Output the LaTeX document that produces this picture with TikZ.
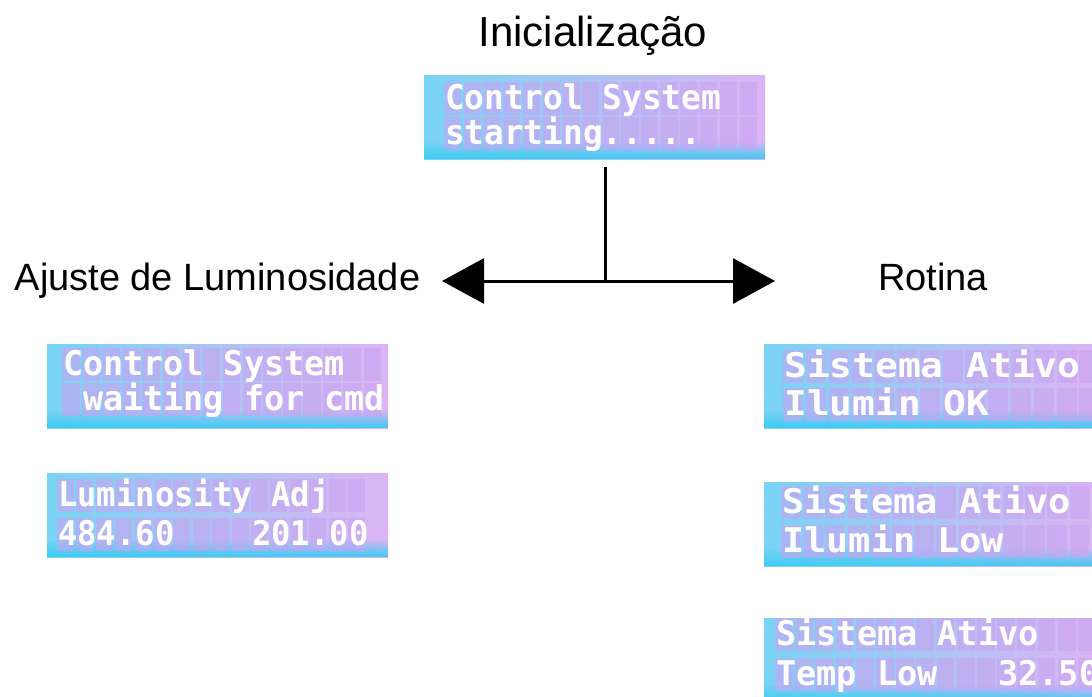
\documentclass[tikz,border=0pt]{standalone}
\usepackage{fontspec}
\setmainfont{Liberation Sans}
\newfontfamily\lcdfont{DejaVu Sans Mono}
\usetikzlibrary{arrows.meta,fadings}
\definecolor{lcdcyan}{HTML}{78D4F4}
\definecolor{lcdblue}{HTML}{A6C4F2}
\definecolor{lcdpink}{HTML}{DDB4F3}
\definecolor{lcdcell}{HTML}{C9A3F2}
\definecolor{lcdglow}{HTML}{3CCBF3}
\tikzset{
  lbl/.style={inner sep=0pt, anchor=base, font=\fontsize{38}{44}\selectfont},
  lcdpanel/.style={rectangle, draw=none, inner sep=0pt, anchor=north west,
    minimum width=341pt, minimum height=84pt,
    left color=lcdcyan, middle color=lcdblue, right color=lcdpink},
  lcdtxt/.style={text=white, inner sep=0pt, anchor=base west,
    font=\lcdfont\bfseries\fontsize{34}{34}\selectfont},
  conn/.style={line width=3pt, draw=black},
  bigtip/.style={-{Triangle[length=42pt,width=45pt]}}
}
% #1 name, #2 x, #3 y, #4 pitch, #5 text offset, #6 baseline 1, #7 baseline 2, #8 row1, #9 row2
\newcommand\lcdbox[9]{%
  \node[lcdpanel] (#1) at (#2,#3) {};
  \fill[lcdglow, path fading=north] (#2,{#3+84}) rectangle ++(341,-18);
  \foreach \ci in {0,...,15}{
    \fill[lcdcell, opacity=0.6] ({#2+#5-1+\ci*#4},{#3+#6-27}) rectangle ++({#4*0.88},33);
    \fill[lcdcell, opacity=0.6] ({#2+#5-1+\ci*#4},{#3+#7-27}) rectangle ++({#4*0.88},33);
  }
  \pgfmathsetmacro\lcdsx{#4/20.47}
  \node[lcdtxt] (#1-a) at ({#2+#5},{#3+#6}) {\scalebox{\lcdsx}[1]{#8}};
  \node[lcdtxt] (#1-b) at ({#2+#5},{#3+#7}) {\scalebox{\lcdsx}[1]{#9}};
}
\begin{document}
\begin{tikzpicture}[x=1pt,y=-1pt]
\path[use as bounding box, clip] (0,0) rectangle (1092,696);
\fill[white] (0,0) rectangle (1092,696);

\node[lbl, font=\fontsize{42}{48}\selectfont] (title) at (593,46) {Inicialização};
\node[lbl] (ajuste) at (217.5,290) {Ajuste de Luminosidade};
\node[lbl] (rotina) at (933,290) {Rotina};

\lcdbox{init}{424}{75}{19.7}{21}{34}{69}{Control~System}{starting.....}
\lcdbox{l1}{47}{344}{20.1}{16}{31}{66}{Control~System}{~waiting~for~cmd}
\lcdbox{l2}{47}{473}{19.4}{11}{33}{72}{Luminosity~Adj}{484.60~~~~201.00}
\lcdbox{r1}{764}{344}{22.8}{20}{33}{71}{Sistema~Ativo}{Ilumin~OK}
\lcdbox{r2}{764}{482}{22.2}{18}{31}{70}{Sistema~Ativo}{Ilumin~Low}
\lcdbox{r3}{764}{618}{20.2}{12}{27}{67}{Sistema~Ativo}{Temp~Low~~~32.50}

\coordinate (vtop) at (605,167);
\coordinate (j) at (605,281);
\coordinate (ltip) at (442,281);
\coordinate (rtip) at (775,281);
\draw[conn] (vtop) -- (j);
\draw[conn, bigtip] (j) -- (ltip);
\draw[conn, bigtip] (j) -- (rtip);
\end{tikzpicture}
\end{document}
